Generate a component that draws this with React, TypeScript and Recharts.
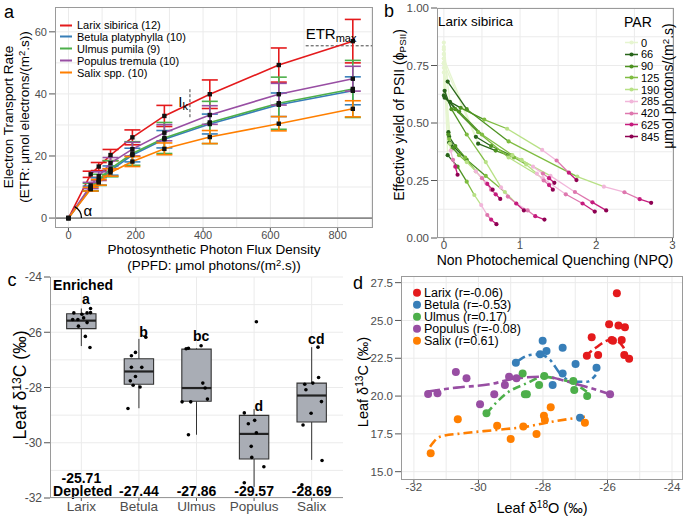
import React from 'react'
import {
  LineChart, Line, XAxis, YAxis, CartesianGrid, ErrorBar, ReferenceLine, ReferenceDot,
  ReferenceArea, ComposedChart, Scatter,
} from 'recharts'

const FONT = '"Liberation Sans", Arial, Helvetica, sans-serif'
const GRID = '#ebebeb'
const TICK_FILL = '#4d4d4d'
const FRAME = '#9a9a9a'

// ---------- panel a: light response curves ----------
const ppfd = [0, 66, 90, 125, 190, 285, 420, 625, 845]
const larixEtr = [0, 14.1, 16.6, 20.3, 26.0, 32.9, 39.9, 49.3, 57.0]
const larixSd = [0, 1.0, 1.3, 1.8, 2.4, 3.4, 4.6, 5.5, 7.0]
const betulaEtr = [0, 9.5, 11.8, 15.3, 20.3, 25.4, 30.3, 36.5, 41.0]
const betulaSd = [0, 0.8, 1.2, 1.5, 2.2, 2.8, 3.2, 3.8, 4.5]
const ulmusEtr = [0, 10.0, 12.3, 15.9, 20.8, 25.8, 30.8, 37.0, 41.6]
const ulmusSd = [0, 1.2, 1.8, 2.6, 3.8, 5.0, 6.8, 8.4, 9.2]
const populusEtr = [0, 10.5, 13.5, 17.7, 22.2, 27.5, 33.2, 39.9, 44.9]
const populusSd = [0, 1.0, 1.4, 1.8, 2.2, 2.6, 3.0, 3.5, 4.0]
const salixEtr = [0, 9.3, 11.5, 14.7, 18.2, 22.3, 26.1, 30.4, 35.2]
const salixSd = [0, 0.6, 0.9, 1.2, 1.6, 1.9, 2.1, 2.3, 2.6]

const etrSeries = [
  { key: 'larix', name: 'Larix sibirica (12)', color: '#e41a1c', v: larixEtr, e: larixSd },
  { key: 'betula', name: 'Betula platyphylla (10)', color: '#377eb8', v: betulaEtr, e: betulaSd },
  { key: 'ulmus', name: 'Ulmus pumila (9)', color: '#4daf4a', v: ulmusEtr, e: ulmusSd },
  { key: 'populus', name: 'Populus tremula (10)', color: '#984ea3', v: populusEtr, e: populusSd },
  { key: 'salix', name: 'Salix spp. (10)', color: '#ff7f00', v: salixEtr, e: salixSd },
]
const etrTable = ppfd.map((p, i) => {
  const row: any = { ppfd: p }
  etrSeries.forEach(s => { row[s.key] = s.v[i]; row[s.key + 'Err'] = s.e[i] })
  return row
})

// ---------- panel b: yield vs NPQ per Larix tree ----------
const parLevels = ['0', '66', '90', '125', '190', '285', '420', '625', '845']
const parColors = ['#e6f5d0', '#276419', '#4d9221', '#7fbc41', '#b8e186', '#f1b6da', '#de77ae', '#c51b7d', '#8e0152']
const larixNpq = [
  [0.00, 0.05, 0.30, 0.85, 1.75, 2.10, 2.37, 2.57, 2.72],
  [0.00, 0.08, 0.22, 0.53, 0.83, 1.29, 1.48, 1.64, 1.74],
  [0.00, 0.42, 0.62, 0.88, 1.02, 1.17, 1.30, 1.38, 1.45],
  [0.00, 0.45, 0.68, 0.92, 1.08, 1.22, 1.31, 1.38, 1.43],
  [0.00, 0.01, 0.20, 0.50, 0.90, 1.40, 1.72, 1.95, 2.13],
  [0.00, 0.00, 0.15, 0.45, 0.85, 1.30, 1.60, 1.82, 1.98],
  [0.00, 0.09, 0.30, 0.55, 0.80, 0.95, 1.10, 1.20, 1.32],
  [0.00, 0.06, 0.06, 0.07, 0.08, 0.09, 0.12, 0.15, 0.18],
  [0.00, 0.05, 0.18, 0.30, 0.40, 0.49, 0.57, 0.62, 0.69],
  [0.00, 0.07, 0.15, 0.28, 0.42, 0.55, 0.62, 0.68, 0.74],
  [0.00, 0.07, 0.12, 0.20, 0.30, 0.42, 0.50, 0.57, 0.64],
  [0.00, 0.01, 0.10, 0.30, 0.55, 0.75, 0.84, 0.95, 1.05],
]
const larixYield = [
  [0.85, 0.68, 0.56, 0.42, 0.267, 0.223, 0.199, 0.169, 0.153],
  [0.80, 0.592, 0.566, 0.515, 0.475, 0.383, 0.337, 0.284, 0.252],
  [0.78, 0.44, 0.40, 0.36, 0.34, 0.31, 0.28, 0.26, 0.24],
  [0.76, 0.41, 0.38, 0.35, 0.32, 0.28, 0.25, 0.23, 0.21],
  [0.82, 0.61, 0.55, 0.45, 0.36, 0.27, 0.20, 0.155, 0.12],
  [0.80, 0.62, 0.56, 0.46, 0.35, 0.26, 0.19, 0.15, 0.115],
  [0.76, 0.41, 0.34, 0.27, 0.20, 0.15, 0.12, 0.095, 0.08],
  [0.72, 0.46, 0.45, 0.43, 0.41, 0.38, 0.34, 0.31, 0.275],
  [0.78, 0.36, 0.31, 0.245, 0.187, 0.143, 0.10, 0.08, 0.06],
  [0.76, 0.44, 0.40, 0.35, 0.29, 0.24, 0.21, 0.19, 0.17],
  [0.74, 0.415, 0.39, 0.36, 0.33, 0.29, 0.26, 0.235, 0.21],
  [0.83, 0.64, 0.56, 0.45, 0.33, 0.22, 0.18, 0.15, 0.12],
]
const yieldSegments: any[] = []
parLevels.slice(0, -1).forEach((_, k) => {
  larixNpq.forEach((row, i) => {
    yieldSegments.push({
      key: `s${i}-${k}`,
      color: parColors[k],
      data: [{ x: row[k], y: larixYield[i][k] }, { x: row[k + 1], y: larixYield[i][k + 1] }],
    })
  })
})
const yieldPoints = parLevels.map((_, k) => larixNpq.map((row, i) => ({ x: row[k], y: larixYield[i][k] })))

// ---------- panel c: leaf d13C boxplots ----------
const species = ['Larix', 'Betula', 'Ulmus', 'Populus', 'Salix']
const whiskerLo = [-26.5, -28.75, -29.71, -31.6, -30.62]
const boxQ1 = [-25.87, -27.88, -28.5, -30.59, -29.25]
const boxMedian = [-25.58, -27.42, -28.02, -29.68, -28.29]
const boxQ3 = [-25.33, -26.96, -26.61, -29.01, -27.84]
const whiskerHi = [-25.14, -26.24, -26.58, -28.78, -26.54]
const c13Values = [
  [-25.30, -25.54, -25.35, -25.30, -25.14, -25.29, -25.78, -25.65, -25.54, -26.15, -26.55, -25.48],
  [-26.18, -26.73, -26.85, -27.27, -27.27, -27.60, -27.76, -27.92, -27.98, -28.76],
  [-26.58, -26.49, -26.60, -27.84, -28.02, -28.42, -28.52, -28.52, -29.71],
  [-25.62, -28.92, -29.31, -29.19, -29.64, -30.13, -30.53, -30.87, -31.45],
  [-26.54, -27.64, -27.84, -27.88, -28.08, -28.51, -28.93, -29.36, -30.64, -31.52],
]
const c13Jitter = [
  [-0.13, -0.06, 0.01, 0.1, 0.16, 0.16, -0.05, 0.1, -0.15, 0.07, 0.15, 0.04],
  [0.12, -0.06, -0.13, -0.13, 0.05, -0.06, -0.15, -0.1, 0.02, -0.19],
  [-0.14, 0.08, -0.18, 0.11, 0.15, 0.19, -0.25, -0.1, -0.14],
  [0.04, -0.17, -0.1, 0.01, 0.04, -0.05, -0.04, 0.17, -0.17],
  [0.11, 0.12, 0.02, -0.12, -0.1, 0.17, -0.01, -0.15, 0.18, -0.17],
]
const groupLetters = ['a', 'b', 'bc', 'd', 'cd']
const letterY = [-24.8, -26.0, -26.15, -28.68, -26.25]
const meanLabels = ['-25.71', '-27.44', '-27.86', '-29.57', '-28.69']
const meanY = [-31.28, -31.73, -31.73, -31.73, -31.73]
const c13Points = c13Values.flatMap((vals, i) => vals.map((v, j) => ({ x: i + 1 + c13Jitter[i][j], y: v })))

// ---------- panel d: d13C vs d18O ----------
const larixO18 = [-25.71, -25.95, -25.66, -25.46, -26.49, -25.87, -25.83, -25.56, -26.64, -26.29, -25.48, -25.33]
const larixC13 = [26.8, 24.75, 24.66, 24.55, 23.89, 23.71, 23.66, 23.71, 22.67, 22.72, 22.72, 22.46]
const betulaO18 = [-28.84, -28.09, -28.01, -27.89, -27.39, -27.39, -27.7, -26.99, -26.34, -26.85]
const betulaC13 = [22.2, 22.76, 23.66, 22.98, 23.2, 21.5, 20.73, 22.12, 21.88, 18.57]
const ulmusO18 = [-29.75, -28.63, -28.56, -28.5, -28.12, -27.96, -27.06, -27.03, -26.63]
const ulmusC13 = [18.86, 21.5, 20.12, 20.12, 20.73, 21.33, 21.0, 20.4, 20.0]
const populusO18 = [-31.56, -31.27, -30.7, -30.37, -29.95, -29.51, -29.18, -29.05, -28.82, -25.92]
const populusC13 = [20.14, 20.18, 21.6, 21.18, 19.46, 20.12, 20.73, 21.28, 21.18, 20.12]
const salixO18 = [-31.48, -30.64, -29.42, -29.0, -28.61, -28.2, -27.97, -27.94, -27.76, -26.7]
const salixC13 = [16.22, 18.47, 18.04, 17.16, 17.98, 17.5, 18.7, 18.42, 19.26, 18.24]

const larixTrendX = [-26.7, -26.34, -25.92, -25.71, -25.51, -25.38]
const larixTrendY = [22.6, 23.23, 23.71, 23.64, 23.23, 22.6]
const betulaTrendX = [-28.87, -28.4, -28.09, -27.78, -27.47, -27.06, -26.64, -26.36]
const betulaTrendY = [22.17, 22.72, 22.76, 22.39, 21.5, 20.95, 20.95, 21.4]
const ulmusTrendX = [-29.75, -29.13, -28.5, -27.99, -27.47, -27.06, -26.64]
const ulmusTrendY = [18.86, 20.18, 20.85, 21.28, 21.1, 20.85, 20.29]
const populusTrendX = [-31.56, -30.68, -29.64, -28.82, -27.99, -27.06, -25.92]
const populusTrendY = [20.3, 20.56, 20.78, 21.18, 21.28, 20.85, 20.12]
const salixTrendX = [-31.5, -31.19, -30.47, -29.44, -28.5, -27.89, -26.7]
const salixTrendY = [16.65, 17.31, 17.54, 17.76, 17.98, 18.24, 18.64]

const zip = (xs: number[], ys: number[]) => xs.map((x, i) => ({ x, y: ys[i] }))
const isoSeries = [
  { name: 'Larix (r=-0.06)', color: '#e41a1c', pts: zip(larixO18, larixC13), trend: zip(larixTrendX, larixTrendY), dash: '9 4' },
  { name: 'Betula (r=-0.53)', color: '#377eb8', pts: zip(betulaO18, betulaC13), trend: zip(betulaTrendX, betulaTrendY), dash: '12 4 3 4' },
  { name: 'Ulmus (r=0.17)', color: '#4daf4a', pts: zip(ulmusO18, ulmusC13), trend: zip(ulmusTrendX, ulmusTrendY), dash: '8 4 2 4' },
  { name: 'Populus (r=-0.08)', color: '#984ea3', pts: zip(populusO18, populusC13), trend: zip(populusTrendX, populusTrendY), dash: '12 4 5 4' },
  { name: 'Salix (r=0.61)', color: '#ff7f00', pts: zip(salixO18, salixC13), trend: zip(salixTrendX, salixTrendY), dash: '9 4 2 4' },
]

// ---------- helpers ----------
const tick = (size: number) => ({ fontSize: size, fill: TICK_FILL, fontFamily: FONT })
const sup = (t: string) => <span style={{ fontSize: '0.7em', verticalAlign: '0.45em' }}>{t}</span>
const sub = (t: string) => <span style={{ fontSize: '0.7em', verticalAlign: '-0.25em' }}>{t}</span>

function Txt({ x, y, size = 14, rotate = false, left = false, weight = 400, children }: any) {
  const base = left ? 'translate(0,-50%)' : 'translate(-50%,-50%)'
  return (
    <div style={{
      position: 'absolute', left: x, top: y, transform: base + (rotate ? ' rotate(-90deg)' : ''),
      fontSize: size, fontWeight: weight, whiteSpace: 'nowrap', lineHeight: 1, fontFamily: FONT, color: '#000',
    }}>{children}</div>
  )
}

function Frame({ x, y, w, h, sides = 'tlbr' }: any) {
  const b = `1px solid ${FRAME}`
  return (
    <div style={{
      position: 'absolute', left: x, top: y, width: w, height: h, boxSizing: 'border-box', pointerEvents: 'none',
      borderTop: sides.includes('t') ? b : 'none', borderLeft: sides.includes('l') ? b : 'none',
      borderBottom: sides.includes('b') ? b : 'none', borderRight: sides.includes('r') ? b : 'none',
    }} />
  )
}

const squareDot = (p: any) => (
  <rect key={`sq-${p.dataKey}-${p.index}`} x={p.cx - 2.2} y={p.cy - 2.2} width={4.4} height={4.4} fill="#111" />
)
const circle = (r: number, fill?: string) => (p: any) => (
  <circle cx={p.cx} cy={p.cy} r={r} fill={fill || p.fill} />
)
const svgText = (label: string, size: number, anchor: string, bold = false) => (p: any) => (
  <text x={p.cx} y={p.cy} textAnchor={anchor} dominantBaseline="central" fontSize={size}
    fontWeight={bold ? 700 : 400} fontFamily={FONT} fill="#000">{label}</text>
)

function PanelA() {
  return (
    <>
      <div style={{ position: 'absolute', left: 0, top: 0 }}>
        <LineChart width={380} height={260} data={etrTable} margin={{ top: 7, right: 7, left: 0, bottom: 0 }}>
          <CartesianGrid stroke={GRID} verticalValues={[0, 100, 200, 300, 400, 500, 600, 700, 800, 900]}
            horizontalValues={[0, 10, 20, 30, 40, 50, 60]} />
          <XAxis type="number" dataKey="ppfd" domain={[-40, 905]} ticks={[0, 200, 400, 600, 800]} height={32}
            tick={tick(11)} tickLine={{ stroke: '#555' }} tickSize={3} axisLine={false} tickMargin={0} allowDataOverflow />
          <YAxis type="number" domain={[-3.2, 68]} ticks={[0, 20, 40, 60]} width={55}
            tick={tick(11)} tickLine={{ stroke: '#555' }} axisLine={false} allowDataOverflow />
          <ReferenceLine y={0} stroke="#8a8a8a" strokeWidth={1.8} />
          <ReferenceLine segment={[{ x: 361, y: 32.5 }, { x: 361, y: 41.8 }]} stroke="#444" strokeDasharray="3 2" />
          <ReferenceLine segment={[{ x: 705, y: 55.5 }, { x: 905, y: 55.5 }]} stroke="#444" strokeDasharray="3 2" ifOverflow="visible" />
          {etrSeries.map(s => (
            <Line key={s.key} dataKey={s.key} stroke={s.color} strokeWidth={1.6} dot={squareDot} isAnimationActive={false}>
              <ErrorBar dataKey={s.key + 'Err'} width={8} stroke={s.color} strokeWidth={1.6} direction="y" />
            </Line>
          ))}
          <ReferenceDot x={0} y={0} ifOverflow="visible" shape={(p: any) => {
            const r = 13, a = (62 * Math.PI) / 180
            return (
              <g>
                <path d={`M ${p.cx + r} ${p.cy} A ${r} ${r} 0 0 0 ${p.cx + r * Math.cos(a)} ${p.cy - r * Math.sin(a)}`}
                  fill="none" stroke="#000" strokeWidth={1.3} />
                <text x={p.cx + 15} y={p.cy - 2} fontSize={15} fontFamily={FONT}>α</text>
              </g>
            )
          }} />
          <ReferenceDot x={361} y={35.8} ifOverflow="visible" shape={(p: any) => (
            <text x={p.cx - 2} y={p.cy} textAnchor="end" fontSize={15} fontFamily={FONT}>
              I<tspan fontSize={11} dy={3}>k</tspan>
            </text>
          )} />
          <ReferenceDot x={705} y={57.6} ifOverflow="visible" shape={(p: any) => (
            <text x={p.cx} y={p.cy} fontSize={15} fontFamily={FONT}>
              ETR<tspan fontSize={11} dy={3}>max</tspan>
            </text>
          )} />
        </LineChart>
      </div>
      <Frame x={55} y={7} w={318} h={221} />
      {etrSeries.map((s, i) => (
        <div key={s.key} style={{ position: 'absolute', left: 60, top: 25 + i * 11.9, transform: 'translateY(-50%)', display: 'flex', alignItems: 'center', fontSize: 11, fontFamily: FONT, lineHeight: 1 }}>
          <div style={{ width: 12, height: 2, background: s.color, marginRight: 5 }} />
          <span>{s.name}</span>
        </div>
      ))}
      <Txt x={9} y={12} size={18}>a</Txt>
      <Txt x={8.5} y={117} size={13.5} rotate>Electron Transport Rate</Txt>
      <Txt x={23.5} y={117} size={13.5} rotate>(ETR: μmol electrons/(m{sup('2')}.s))</Txt>
      <Txt x={214} y={250} size={13.5}>Photosynthetic Photon Flux Density</Txt>
      <Txt x={214} y={264.5} size={13.5}>(PPFD: μmol photons/(m{sup('2')}.s))</Txt>
    </>
  )
}

function PanelB() {
  return (
    <>
      <div style={{ position: 'absolute', left: 380, top: 0 }}>
        <ComposedChart width={305} height={260} margin={{ top: 8, right: 11, left: 0, bottom: 0 }}>
          <CartesianGrid stroke={GRID} verticalValues={[0, 0.5, 1, 1.5, 2, 2.5, 3]}
            horizontalValues={[0, 0.125, 0.25, 0.375, 0.5, 0.625, 0.75, 0.875, 1]} />
          <XAxis type="number" dataKey="x" domain={[-0.09, 3.02]} ticks={[0, 1, 2, 3]} height={22}
            tick={tick(11.5)} tickLine={{ stroke: '#555' }} tickSize={3} axisLine={false} tickMargin={0} allowDataOverflow />
          <YAxis type="number" dataKey="y" domain={[0, 1]} ticks={[0, 0.25, 0.5, 0.75, 1]} width={57}
            tickFormatter={(v: number) => v.toFixed(2)} tick={tick(11.5)} tickLine={{ stroke: '#555' }} axisLine={false} allowDataOverflow />
          {yieldSegments.map(s => (
            <Line key={s.key} data={s.data} dataKey="y" stroke={s.color} strokeWidth={1.3} dot={false} isAnimationActive={false} />
          ))}
          {yieldPoints.map((pts, k) => (
            <Scatter key={parLevels[k]} data={pts} dataKey="y" fill={parColors[k]} shape={circle(2.1)} isAnimationActive={false} />
          ))}
        </ComposedChart>
      </div>
      <Frame x={437} y={8} w={237} h={230} />
      <Txt x={438} y={22} size={13.5} left>Larix sibirica</Txt>
      <Txt x={624} y={22} size={14} left>PAR</Txt>
      {parLevels.map((lvl, k) => (
        <div key={lvl} style={{ position: 'absolute', left: 625, top: 42.7 + k * 11.75, transform: 'translateY(-50%)', display: 'flex', alignItems: 'center', fontSize: 11, fontFamily: FONT, lineHeight: 1 }}>
          <svg width={13} height={6} style={{ marginRight: 3 }}>
            <line x1={0} y1={3} x2={13} y2={3} stroke={parColors[k]} strokeWidth={1.5} />
            <circle cx={6.5} cy={3} r={2.1} fill={parColors[k]} />
          </svg>
          <span>{lvl}</span>
        </div>
      ))}
      <Txt x={668} y={86} size={14} rotate>μmol photons/(m{sup('2')}.s)</Txt>
      <Txt x={389} y={11} size={18}>b</Txt>
      <Txt x={400} y={115} size={14} rotate>Effective yield of PSII (ϕ{sub('PSII')})</Txt>
      <Txt x={555} y={260} size={14}>Non Photochemical Quenching (NPQ)</Txt>
    </>
  )
}

function PanelC() {
  return (
    <>
      <div style={{ position: 'absolute', left: 0, top: 262 }}>
        <ComposedChart width={345} height={257} margin={{ top: 15, right: 2, left: 0, bottom: 0 }}>
          <CartesianGrid stroke={GRID} verticalValues={[1, 2, 3, 4, 5]}
            horizontalValues={[-32, -31, -30, -29, -28, -27, -26, -25, -24]} />
          <XAxis type="number" dataKey="x" domain={[0.456, 5.544]} ticks={[1, 2, 3, 4, 5]} height={21}
            tickFormatter={(v: number) => species[v - 1]} tick={tick(13.5)} tickLine={{ stroke: '#555' }}
            tickSize={3} axisLine={false} tickMargin={0} allowDataOverflow />
          <YAxis type="number" dataKey="y" domain={[-32, -24]} ticks={[-32, -30, -28, -26, -24]} width={50}
            tick={tick(12)} tickLine={{ stroke: '#555' }} axisLine={false} allowDataOverflow />
          {species.map((s, i) => (
            <ReferenceLine key={s + 'wu'} segment={[{ x: i + 1, y: boxQ3[i] }, { x: i + 1, y: whiskerHi[i] }]} stroke="#333" strokeWidth={1} />
          ))}
          {species.map((s, i) => (
            <ReferenceLine key={s + 'wl'} segment={[{ x: i + 1, y: boxQ1[i] }, { x: i + 1, y: whiskerLo[i] }]} stroke="#333" strokeWidth={1} />
          ))}
          {species.map((s, i) => (
            <ReferenceArea key={s + 'box'} x1={i + 1 - 0.255} x2={i + 1 + 0.255} y1={boxQ1[i]} y2={boxQ3[i]}
              fill="#a9adb5" fillOpacity={1} stroke="#333" strokeWidth={1.1} ifOverflow="visible" />
          ))}
          {species.map((s, i) => (
            <ReferenceLine key={s + 'med'} segment={[{ x: i + 1 - 0.255, y: boxMedian[i] }, { x: i + 1 + 0.255, y: boxMedian[i] }]} stroke="#222" strokeWidth={2.2} />
          ))}
          <Scatter data={c13Points} dataKey="y" fill="#000" shape={circle(1.8, '#000')} isAnimationActive={false} />
          {species.map((s, i) => (
            <ReferenceDot key={s + 'lt'} x={i + 1.08} y={letterY[i]} ifOverflow="visible" shape={svgText(groupLetters[i], 14, 'middle', true)} />
          ))}
          {species.map((s, i) => (
            <ReferenceDot key={s + 'mn'} x={i + 1} y={meanY[i]} ifOverflow="visible" shape={svgText(meanLabels[i], 14, 'middle', true)} />
          ))}
          <ReferenceDot x={0.51} y={-24.28} ifOverflow="visible" shape={svgText('Enriched', 14, 'start', true)} />
          <ReferenceDot x={0.51} y={-31.75} ifOverflow="visible" shape={svgText('Depleted', 14, 'start', true)} />
        </ComposedChart>
      </div>
      <Frame x={50} y={277} w={293} h={221} sides="lb" />
      <Txt x={12} y={280} size={18}>c</Txt>
      <Txt x={20} y={385} size={17.5} rotate>Leaf δ{sup('13')}C (‰)</Txt>
    </>
  )
}

function PanelD() {
  return (
    <>
      <div style={{ position: 'absolute', left: 345, top: 262 }}>
        <ComposedChart width={340} height={257} margin={{ top: 14, right: 2, left: 0, bottom: 17 }}>
          <CartesianGrid stroke={GRID} verticalValues={[-32, -31, -30, -29, -28, -27, -26, -25, -24]}
            horizontalValues={[15, 16.25, 17.5, 18.75, 20, 21.25, 22.5, 23.75, 25, 26.25, 27.5]} />
          <XAxis type="number" dataKey="x" domain={[-32.4, -23.66]} ticks={[-32, -30, -28, -26, -24]} height={22}
            tick={tick(11.5)} tickLine={{ stroke: '#555' }} tickSize={3} axisLine={false} tickMargin={0} allowDataOverflow />
          <YAxis type="number" dataKey="y" domain={[14.45, 27.94]} ticks={[15, 17.5, 20, 22.5, 25, 27.5]} width={56}
            tickFormatter={(v: number) => v.toFixed(1)} tick={tick(11.5)} tickLine={{ stroke: '#555' }} axisLine={false} allowDataOverflow />
          {isoSeries.map(s => (
            <Scatter key={s.name + 'p'} data={s.pts} dataKey="y" fill={s.color} shape={circle(4)} isAnimationActive={false} />
          ))}
          {isoSeries.map(s => (
            <Line key={s.name + 't'} data={s.trend} dataKey="y" type="monotone" stroke={s.color} strokeWidth={2.6}
              strokeDasharray={s.dash} dot={false} isAnimationActive={false} />
          ))}
        </ComposedChart>
      </div>
      <Frame x={401} y={276} w={282} h={204} />
      {isoSeries.map((s, i) => (
        <div key={s.name} style={{ position: 'absolute', left: 413, top: 293 + i * 12, transform: 'translateY(-50%)', display: 'flex', alignItems: 'center', fontSize: 12.5, fontFamily: FONT, lineHeight: 1 }}>
          <div style={{ width: 8, height: 8, borderRadius: 4, background: s.color, marginRight: 3 }} />
          <span>{s.name}</span>
        </div>
      ))}
      <Txt x={358} y={283} size={18}>d</Txt>
      <Txt x={363} y={382} size={14.5} rotate>Leaf δ{sup('13')}C (‰)</Txt>
      <Txt x={542} y={508} size={14.5}>Leaf δ{sup('18')}O (‰)</Txt>
    </>
  )
}

export default function App() {
  return (
    <div style={{ position: 'absolute', left: 0, top: 0, width: 685, height: 519, background: '#fff', overflow: 'hidden', fontFamily: FONT }}>
      <PanelA />
      <PanelB />
      <PanelC />
      <PanelD />
    </div>
  )
}
